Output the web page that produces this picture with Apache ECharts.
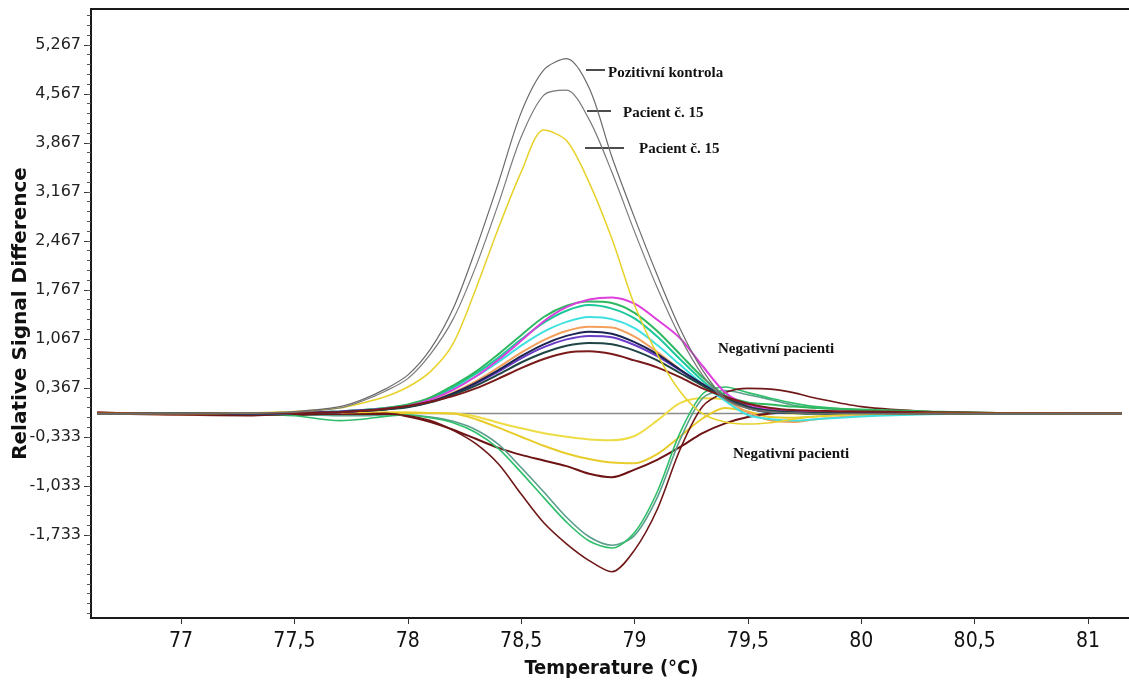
<!DOCTYPE html>
<html>
<head>
<meta charset="utf-8">
<title>Melting curves</title>
<script src="https://cdn.jsdelivr.net/npm/echarts@6/dist/echarts.min.js"></script>
<style>
  html, body { margin: 0; padding: 0; background: #fff; }
  #chart { width: 1129px; height: 686px; }
</style>
</head>
<body>
<div id="chart"></div>
<script>
// temperature points (°C)
const temps = [76.63, 77.0, 77.3, 77.5, 77.7, 77.8, 77.9, 78.0, 78.1, 78.2, 78.3, 78.4, 78.5, 78.6, 78.7,
  78.8, 78.9, 79.0, 79.1, 79.2, 79.3, 79.4, 79.5, 79.6, 79.7, 79.8, 80.0, 80.3, 80.6, 81.15]

// tick labels
const xTicks = [77, 77.5, 78, 78.5, 79, 79.5, 80, 80.5, 81]
const yTicks = [-1.733, -1.033, -0.333, 0.367, 1.067, 1.767, 2.467, 3.167, 3.867, 4.567, 5.267]

// positive control + patient 15 (big peaks)
const pozitivniKontrola = [0, 0, 0.01, 0.03, 0.1, 0.2, 0.35, 0.55, 0.92, 1.5, 2.35, 3.3, 4.3, 4.91, 5.07, 4.65, 3.67, 2.8, 1.98, 1.22, 0.62, 0.22, 0.08, 0.03, 0.01, 0, 0, 0, 0, 0]
const pacient15a = [0, 0, 0.01, 0.02, 0.08, 0.18, 0.32, 0.5, 0.85, 1.35, 2.1, 3.0, 3.95, 4.55, 4.62, 4.2, 3.45, 2.6, 1.8, 1.1, 0.55, 0.2, 0.07, 0.02, 0.01, 0, 0, 0, 0, 0]
const pacient15b = [0, 0, 0.01, 0.03, 0.08, 0.15, 0.24, 0.38, 0.6, 1.0, 1.78, 2.65, 3.45, 4.05, 3.9, 3.3, 2.5, 1.55, 0.85, 0.32, 0, -0.12, -0.15, -0.13, -0.08, -0.04, -0.01, 0, 0, 0]

// negative patients, above the baseline
const negMagenta = [0, 0, 0, 0.01, 0.02, 0.04, 0.07, 0.11, 0.2, 0.34, 0.53, 0.77, 1.04, 1.32, 1.52, 1.63, 1.66, 1.57, 1.34, 1.08, 0.68, 0.3, 0.12, 0.06, 0.04, 0.03, 0.02, 0.01, 0, 0]
const negGreen = [0, 0, 0, 0.01, 0.03, 0.05, 0.08, 0.13, 0.23, 0.4, 0.6, 0.85, 1.12, 1.38, 1.54, 1.6, 1.58, 1.44, 1.18, 0.85, 0.52, 0.26, 0.16, 0.13, 0.1, 0.08, 0.06, 0.03, 0.01, 0]
const negTeal = [0, 0, 0, 0.01, 0.03, 0.05, 0.08, 0.12, 0.22, 0.38, 0.57, 0.8, 1.06, 1.3, 1.47, 1.55, 1.5, 1.36, 1.1, 0.78, 0.47, 0.22, 0.08, 0.02, 0.01, 0, 0, 0, 0, 0]
const negCyan = [0, 0, 0, 0.01, 0.02, 0.04, 0.07, 0.12, 0.21, 0.36, 0.53, 0.74, 0.97, 1.17, 1.31, 1.38, 1.35, 1.22, 0.98, 0.7, 0.42, 0.18, -0.02, -0.08, -0.1, -0.08, -0.04, -0.01, 0, 0]
const negOrange = [0.01, -0.01, 0, 0.02, 0.02, 0.04, 0.06, 0.1, 0.18, 0.3, 0.46, 0.66, 0.87, 1.05, 1.18, 1.24, 1.23, 1.1, 0.88, 0.63, 0.4, 0.2, 0.02, -0.1, -0.12, -0.08, -0.03, 0, 0, 0]
const negNavy = [0, 0, 0, 0.01, 0.02, 0.04, 0.06, 0.1, 0.17, 0.29, 0.44, 0.62, 0.82, 0.99, 1.11, 1.17, 1.14, 1.02, 0.85, 0.63, 0.42, 0.22, 0.08, 0.02, 0.01, 0, 0, 0, 0, 0]
const negPurple = [0, 0, 0, 0.01, 0.03, 0.05, 0.07, 0.1, 0.17, 0.28, 0.43, 0.6, 0.79, 0.95, 1.06, 1.11, 1.09, 0.98, 0.82, 0.62, 0.42, 0.24, 0.1, 0.04, 0.02, 0.01, 0, 0, 0, 0]
const negDarkTeal = [0, 0, 0, 0.01, 0.02, 0.04, 0.06, 0.09, 0.16, 0.27, 0.4, 0.56, 0.73, 0.87, 0.97, 1.01, 0.99, 0.9, 0.76, 0.58, 0.4, 0.23, 0.1, 0.04, 0.02, 0.01, 0, 0, 0, 0]
const negDarkRed = [0.02, -0.01, 0.01, 0.01, 0.02, 0.04, 0.07, 0.11, 0.17, 0.25, 0.36, 0.5, 0.65, 0.78, 0.87, 0.89, 0.85, 0.76, 0.66, 0.52, 0.36, 0.24, 0.14, 0.08, 0.05, 0.04, 0.03, 0.02, 0.01, 0]

// negative patients, below the baseline
const negYellowA = [0, 0, 0, 0.01, 0.02, 0.02, 0.02, 0.02, 0.01, 0, -0.04, -0.13, -0.21, -0.28, -0.33, -0.37, -0.38, -0.32, -0.1, 0.15, 0.22, 0.2, 0.1, 0.03, 0, 0, 0, 0, 0, 0]
const negYellowB = [0, 0, 0, 0.01, 0.01, 0.01, 0.01, 0.01, 0.01, 0, -0.08, -0.2, -0.33, -0.46, -0.57, -0.65, -0.7, -0.71, -0.58, -0.33, -0.07, 0.08, 0.03, -0.05, -0.06, -0.04, -0.01, 0, 0, 0]
const negBrownC = [0, 0.01, -0.01, -0.02, -0.02, -0.01, 0, -0.04, -0.12, -0.23, -0.36, -0.49, -0.59, -0.67, -0.75, -0.86, -0.91, -0.8, -0.66, -0.48, -0.28, -0.14, -0.05, 0, 0.02, 0.02, 0.01, 0, 0, 0]
const negGreenE = [0, 0, -0.01, -0.03, -0.1, -0.08, -0.04, -0.02, -0.06, -0.13, -0.27, -0.5, -0.84, -1.2, -1.55, -1.82, -1.92, -1.7, -1.12, -0.28, 0.28, 0.38, 0.3, 0.22, 0.15, 0.1, 0.05, 0.02, 0.01, 0]
const negTealF = [0, 0, 0, -0.01, -0.03, -0.03, -0.02, -0.02, -0.05, -0.11, -0.23, -0.44, -0.77, -1.12, -1.48, -1.76, -1.88, -1.74, -1.2, -0.38, 0.22, 0.33, 0.27, 0.2, 0.12, 0.08, 0.04, 0.01, 0, 0]
const negBrownD = [0, -0.02, -0.03, -0.01, -0.01, -0.01, -0.01, -0.03, -0.1, -0.24, -0.43, -0.72, -1.15, -1.56, -1.86, -2.1, -2.26, -1.95, -1.37, -0.52, 0.1, 0.3, 0.36, 0.35, 0.3, 0.22, 0.1, 0.03, 0.01, 0]

// zero line
const baseline = temps.map(() => 0)

const chart = echarts.init(document.getElementById('chart'))

// small ticks on the y axis, every 0.14
const yMinor = []
for (let k = -8; k <= 53; k++) yMinor.push(+(yTicks[0] + 0.14 * k).toFixed(3))

const line = (name, values, color, width) => ({
  name,
  type: 'line',
  data: temps.map((t, i) => [t, values[i]]),
  showSymbol: false,
  smooth: 0.3,
  lineStyle: { color, width },
  silent: true
})

const series = [
  line('baseline', baseline, '#8a8a8a', 1.5),
  line('Negativní 1', negYellowA, '#eedc45', 2),
  line('Negativní 2', negYellowB, '#e8cc2c', 2),
  line('Negativní 3', negBrownC, '#6e1414', 2),
  line('Negativní 4', negTealF, '#5a9e8c', 1.6),
  line('Negativní 5', negGreenE, '#2fbf6a', 1.6),
  line('Negativní 6', negBrownD, '#701818', 1.6),
  line('Negativní 7', negOrange, '#f2a05c', 2),
  line('Negativní 8', negCyan, '#3fe0e0', 2),
  line('Negativní 9', negTeal, '#1cc79a', 2),
  line('Negativní 10', negGreen, '#2fb860', 2),
  line('Negativní 11', negMagenta, '#dc3fdc', 2),
  line('Negativní 12', negPurple, '#6a3cc8', 2),
  line('Negativní 13', negNavy, '#1c2552', 2),
  line('Negativní 14', negDarkTeal, '#1f4444', 2),
  line('Negativní 15', negDarkRed, '#7a1a1a', 2),
  line('Pacient č. 15 (b)', pacient15b, '#e8d22a', 1.5),
  line('Pacient č. 15 (a)', pacient15a, '#7a7a7a', 1.2),
  line('Pozitivní kontrola', pozitivniKontrola, '#6a6a6a', 1.2)
]

const note = (text, x, y) => ({
  type: 'text',
  x, y,
  style: { text, font: 'bold 15px "Liberation Serif", serif', fill: '#111', verticalAlign: 'middle' }
})
const tick = (x1, x2, y) => ({
  type: 'line',
  shape: { x1, y1: y, x2, y2: y },
  style: { stroke: '#111', lineWidth: 1.5 }
})

const narrowFont = '"Liberation Sans Narrow", "DejaVu Sans Condensed", sans-serif'

const option = {
  animation: false,
  backgroundColor: '#fff',
  grid: {
    left: 91, right: -3, top: 9, bottom: 68,
    outerBoundsMode: 'none',
    show: true, borderColor: '#1a1a1a', borderWidth: 2
  },
  xAxis: {
    type: 'value',
    min: 76.603,
    max: 81.194,
    name: 'Temperature (°C)',
    nameLocation: 'middle',
    nameGap: 41,
    nameMoveOverlap: false,
    nameTextStyle: { fontFamily: narrowFont, fontWeight: 'bold', fontSize: 20, color: '#111' },
    axisLine: { show: true, onZero: false, lineStyle: { color: '#1a1a1a', width: 2 } },
    axisTick: { show: true, customValues: xTicks, length: 6, lineStyle: { color: '#333' } },
    axisLabel: {
      customValues: xTicks,
      margin: 13,
      fontFamily: narrowFont,
      fontSize: 21, color: '#111',
      formatter: v => String(v).replace('.', ',')
    },
    splitLine: { show: false }
  },
  yAxis: [
    {
      type: 'value',
      min: -2.92,
      max: 5.78,
      name: 'Relative Signal Difference',
      nameLocation: 'middle',
      nameRotate: 90,
      nameGap: 60,
      nameMoveOverlap: false,
      nameTextStyle: { fontFamily: '"DejaVu Sans", sans-serif', fontWeight: 'bold', fontSize: 20, color: '#111' },
      axisLine: { show: true, onZero: false, lineStyle: { color: '#1a1a1a', width: 2 } },
      axisTick: { show: true, customValues: yTicks, length: 7, lineStyle: { color: '#333' } },
      axisLabel: {
        customValues: yTicks,
        margin: 10,
        fontFamily: '"DejaVu Sans", sans-serif',
        fontSize: 16, color: '#222',
        formatter: v => v.toFixed(3).replace('.', ',')
      },
      splitLine: { show: false }
    },
    {
      type: 'value',
      min: -2.92,
      max: 5.78,
      position: 'left',
      axisLine: { show: false, onZero: false },
      axisTick: { show: true, customValues: yMinor, length: 4, lineStyle: { color: '#555' } },
      axisLabel: { show: false },
      splitLine: { show: false }
    }
  ],
  graphic: [
    tick(586, 605, 70), note('Pozitivní kontrola', 608, 73),
    tick(587, 611, 111), note('Pacient č. 15', 623, 113),
    tick(585, 624, 148), note('Pacient č. 15', 639, 149),
    note('Negativní pacienti', 718, 349),
    note('Negativní pacienti', 733, 454)
  ],
  series
}

chart.setOption(option)
</script>
</body>
</html>
